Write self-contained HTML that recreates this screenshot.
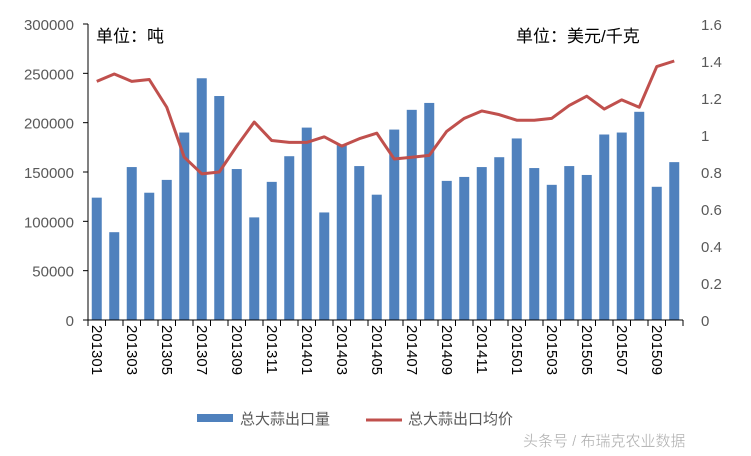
<!DOCTYPE html>
<html><head><meta charset="utf-8"><style>
body{margin:0;background:#fff;}
svg text{font-family:"Liberation Sans","Noto Sans CJK SC",sans-serif;}
</style></head><body>
<svg id="chart" width="751" height="451" viewBox="0 0 751 451" xmlns="http://www.w3.org/2000/svg">
<rect width="751" height="451" fill="#fff"/>
<g id="grid"></g>
<g id="bars"></g>
<g id="line"></g>
<g id="axes"></g>
<text x="96" y="42" font-size="17" fill="#000">单位：吨</text>
<text x="516" y="42" font-size="17" fill="#000">单位：美元/千克</text>
<g>
<rect x="197" y="414" width="36" height="8" fill="#4f81bd"/>
<text x="240" y="424" font-size="15" fill="#595959">总大蒜出口量</text>
<line x1="366" y1="420" x2="402" y2="420" stroke="#c0504d" stroke-width="3"/>
<text x="408" y="424" font-size="15" fill="#595959">总大蒜出口均价</text>
</g>
<text x="523" y="446" font-size="15" fill="#aaa" stroke="#fff" stroke-width="0.3">头条号 / 布瑞克农业数据</text>
</svg>
<script>
const categories=["201301","201302","201303","201304","201305","201306","201307","201308","201309","201310","201311","201312","201401","201402","201403","201404","201405","201406","201407","201408","201409","201410","201411","201412","201501","201502","201503","201504","201505","201506","201507","201508","201509","201510"];
const volume=[124000,89000,155000,129000,142000,190000,245000,227000,153000,104000,140000,166000,195000,109000,178000,156000,127000,193000,213000,220000,141000,145000,155000,165000,184000,154000,137000,156000,147000,188000,190000,211000,135000,160000];
const price=[1.29,1.33,1.29,1.30,1.15,0.88,0.79,0.80,0.94,1.07,0.97,0.96,0.96,0.99,0.94,0.98,1.01,0.87,0.88,0.89,1.02,1.09,1.13,1.11,1.08,1.08,1.09,1.16,1.21,1.14,1.19,1.15,1.37,1.40];
const leftTicks=[0,50000,100000,150000,200000,250000,300000];
const rightTicks=["0","0.2","0.4","0.6","0.8","1","1.2","1.4","1.6"];
const NS="http://www.w3.org/2000/svg";
const L=88,R=683,T=24,B=320;
const step=(R-L)/categories.length;
const xc=i=>L+step*(i+0.5);
const yL=v=>B-(v/300000)*(B-T);
const yR=v=>B-(v/1.6)*(B-T);
function mk(tag,attrs,parent){const e=document.createElementNS(NS,tag);for(const k in attrs)e.setAttribute(k,attrs[k]);document.getElementById(parent).appendChild(e);return e;}
volume.forEach((v,i)=>{
 const r=mk("rect",{x:xc(i)-5,y:yL(v),width:10,height:B-yL(v),fill:"#4f81bd"},"bars");
 
 
});
const pl=mk("polyline",{points:price.map((p,i)=>xc(i)+","+yR(p)).join(" "),fill:"none",stroke:"#c0504d","stroke-width":3,"stroke-linejoin":"round"},"line");


const al=mk("path",{d:`M${L},${T}V${B}H${R}`,fill:"none",stroke:"#000","stroke-width":1},"axes");


leftTicks.forEach(v=>{
 mk("line",{x1:L-5,x2:L,y1:yL(v),y2:yL(v),stroke:"#000"},"axes");
 const t=mk("text",{x:L-14,y:yL(v)+6,"text-anchor":"end","font-size":15,fill:"#595959"},"axes");
 t.textContent=v;
 
 
});
rightTicks.forEach(v=>{
 const y=yR(parseFloat(v));
 const t=mk("text",{x:R+18,y:y+6,"font-size":15,fill:"#595959"},"axes");
 t.textContent=v;
 
 
});
for(let i=0;i<=categories.length;i++){const x=L+step*i;mk("line",{x1:x,x2:x,y1:B,y2:B+6,stroke:"#000"},"axes");}
categories.forEach((c,i)=>{
 if(i%2)return;
 const x=xc(i);
 const t=mk("text",{x:0,y:0,transform:`translate(${x-5},${B+5}) rotate(90)`,"font-size":15,fill:"#000"},"axes");
 t.textContent=c;
 
 
});
</script>
</body></html>
